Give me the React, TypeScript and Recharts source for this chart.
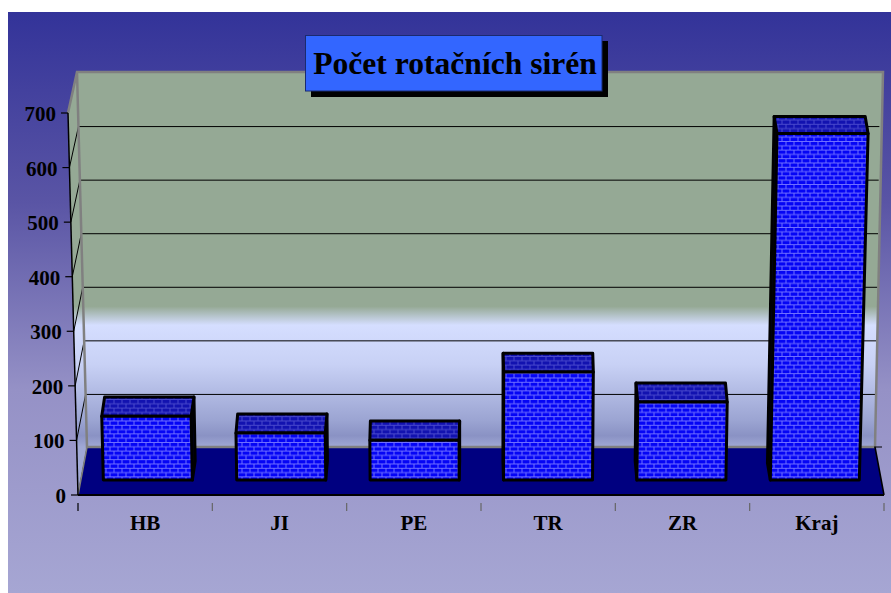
import { BarChart, Bar, XAxis, YAxis } from "recharts";

const categories = ["HB", "JI", "PE", "TR", "ZR", "Kraj"];
const sirens = [117, 86, 73, 198, 143, 635];
const yTicks = [0, 100, 200, 300, 400, 500, 600, 700];
const title = "Počet rotačních sirén";

const data = categories.map((name, i) => ({ name, sirens: sirens[i] }));

const FONT = '"Liberation Serif", "Times New Roman", serif';

// chart svg sits at page (8,12), everything below is in svg coords
const ORIGIN_X = 8;
const ORIGIN_Y = 12;
const px = (x: number) => x - ORIGIN_X;
const py = (y: number) => y - ORIGIN_Y;

const leanX = (y: number) => 10 * (py(495) - y) / 382; // front axis tilt
const backY = (t: number) => py(448) - (t / 700) * 375;
const backX = (y: number) => px(87) - (10 * (py(447) - y)) / 375;
const BAND = 806 / 6;

function Backdrop() {
  const wall = [
    [px(77), py(72)],
    [px(883), py(72)],
    [px(875), py(447)],
    [px(87), py(447)],
  ];
  const side = [
    [px(68), py(113)],
    [px(77), py(72)],
    [px(87), py(447)],
    [px(78), py(495)],
  ];
  const floor = [
    [px(87), py(447)],
    [px(875), py(447)],
    [px(884), py(495)],
    [px(78), py(495)],
  ];
  const pts = (p: number[][]) => p.map((q) => q.join(",")).join(" ");
  return (
    <g>
      <defs>
        <linearGradient id="bg" x1="0" y1="0" x2="0" y2="1">
          <stop offset="0" stopColor="#333399" />
          <stop offset="0.33" stopColor="#5a55a5" />
          <stop offset="0.65" stopColor="#9591c6" />
          <stop offset="1" stopColor="#a6a6d3" />
        </linearGradient>
        <linearGradient id="wall" gradientUnits="userSpaceOnUse" x1="0" y1={py(72)} x2="0" y2={py(447)}>
          <stop offset="0" stopColor="#95a995" />
          <stop offset="0.625" stopColor="#95a995" />
          <stop offset="0.675" stopColor="#d5deff" />
          <stop offset="0.78" stopColor="#c8d1f5" />
          <stop offset="0.93" stopColor="#9ba4d2" />
          <stop offset="0.97" stopColor="#8a92c4" />
          <stop offset="1" stopColor="#a0a8d5" />
        </linearGradient>
        <pattern id="brick" patternUnits="userSpaceOnUse" width="8" height="8.6">
          <rect width="8" height="8.6" fill="#0505f5" />
          <path d="M0 0.5H8M0 4.8H8M2 0.5V4.8M6 4.8V8.6" stroke="#7070ff" strokeWidth="1" fill="none" />
        </pattern>
        <pattern id="brickTop" patternUnits="userSpaceOnUse" width="8" height="8.6">
          <rect width="8" height="8.6" fill="#1212b0" />
          <path d="M0 0.5H8M0 4.8H8M2 0.5V4.8M6 4.8V8.6" stroke="#4a4acc" strokeWidth="1" fill="none" />
        </pattern>
      </defs>
      <rect x="0" y="0" width="883" height="581" fill="url(#bg)" />
      <polygon points={pts(side)} fill="url(#wall)" />
      <polygon points={pts(wall)} fill="url(#wall)" />
      <polygon points={pts(floor)} fill="#000080" />
      {yTicks.slice(1, -1).map((t) => (
        <line key={t} x1={backX(backY(t))} x2={px(880) - (backY(t) - py(72)) * 0.012} y1={backY(t)} y2={backY(t)} stroke="#000" strokeWidth={1} />
      ))}
      {yTicks.slice(0, -1).map((t) => {
        const fy = py(495) - (t / 700) * 382;
        return <line key={t} x1={px(78) - leanX(fy)} y1={fy} x2={backX(backY(t))} y2={backY(t)} stroke="#000" strokeWidth={1} />;
      })}
      <polyline points={pts([side[0], side[1], wall[1], wall[2], wall[3], wall[0]])} fill="none" stroke="#808080" strokeWidth={2.5} />
      <line x1={px(87)} y1={py(447)} x2={px(78)} y2={py(495)} stroke="#808080" strokeWidth={1.5} />
      <line x1={px(875)} y1={py(447)} x2={px(884)} y2={py(495)} stroke="#000" strokeWidth={1.5} />
      <line x1={px(874)} y1={py(447)} x2={px(882)} y2={py(447)} stroke="#000" strokeWidth={1} />
      <line x1={px(68)} y1={py(113)} x2={px(78)} y2={py(495)} stroke="#000" strokeWidth={1.5} />
      <line x1={px(78)} y1={py(495)} x2={px(884)} y2={py(495)} stroke="#000" strokeWidth={2} />
    </g>
  );
}

function Bar3D(props: any) {
  const { x, y, width, height } = props;
  const cx = x + width / 2;
  const vp = px(480);
  const shift = (vp - cx) * 0.007;
  const lift = 15; // bars stand a third of the way into the floor
  const depthY = 19.5 - height * 0.007; // roof gets shallower higher up
  const depthX = (vp - cx) * 0.0085;
  const flare = (at: number, h: number) => (at - vp) * 6.67e-5 * h;

  const base = y + height - lift;
  const top = y - lift;
  const l = x + shift;
  const r = x + width + shift;
  const tl = l + flare(l, height);
  const tr = r + flare(r, height);

  const front = `${l},${base} ${r},${base} ${tr},${top} ${tl},${top}`;
  const roof = `${tl},${top} ${tr},${top} ${tr + depthX},${top - depthY} ${tl + depthX},${top - depthY}`;
  const edgeX = depthX > 0 ? r : l;
  const edgeTopX = depthX > 0 ? tr : tl;
  const sidePts = `${edgeX},${base} ${edgeTopX},${top} ${edgeTopX + depthX},${top - depthY} ${edgeX + depthX},${base - depthY}`;

  return (
    <g stroke="#000" strokeWidth={3} strokeLinejoin="round">
      <polygon points={sidePts} fill="#000060" />
      <polygon points={roof} fill="url(#brickTop)" />
      <polygon points={front} fill="url(#brick)" />
    </g>
  );
}

function YTick({ y, payload }: any) {
  const ax = 70 - leanX(y);
  return (
    <g>
      <line x1={ax - 7} x2={ax} y1={y} y2={y} stroke="#000" strokeWidth={1.2} />
      <text x={ax - 12} y={y + 8} textAnchor="end" fontFamily={FONT} fontWeight={700} fontSize={21} fill="#000">
        {payload.value}
      </text>
    </g>
  );
}

function XTick({ x, y, payload, index }: any) {
  const last = index === categories.length - 1;
  return (
    <g>
      <line x1={x - BAND / 2} x2={x - BAND / 2} y1={y} y2={y + 8} stroke={index === 0 ? "#000" : "#666"} strokeWidth={1.2} />
      {last && <line x1={x + BAND / 2} x2={x + BAND / 2} y1={y} y2={y + 8} stroke="#666" strokeWidth={1.2} />}
      <text x={x} y={py(530)} textAnchor="middle" fontFamily={FONT} fontWeight={700} fontSize={21} fill="#000">
        {payload.value}
      </text>
    </g>
  );
}

function TitleBox() {
  return (
    <g>
      <rect x={px(311)} y={py(41)} width={297} height={56} fill="#000" />
      <rect x={px(305.5)} y={py(35.5)} width={296.5} height={55.5} fill="#3366ff" stroke="#1a2a70" strokeWidth={1} />
      <text x={px(455)} y={py(74)} textAnchor="middle" fontFamily={FONT} fontWeight={700} fontSize={31.6} fill="#000">
        {title}
      </text>
    </g>
  );
}

export default function App() {
  return (
    <div style={{ position: "absolute", left: 8, top: 12, width: 883, height: 581 }}>
      <BarChart
        width={883}
        height={581}
        data={data}
        barSize={89}
        margin={{ top: 101, right: 7, bottom: 0, left: 0 }}
      >
        <Backdrop />
        <XAxis dataKey="name" height={98} axisLine={false} tickLine={false} tick={<XTick />} interval={0} />
        <YAxis
          width={70}
          domain={[0, 700]}
          ticks={yTicks}
          axisLine={false}
          tickLine={false}
          tick={<YTick />}
          interval={0}
        />
        <Bar dataKey="sirens" shape={<Bar3D />} isAnimationActive={false} />
        <TitleBox />
      </BarChart>
    </div>
  );
}
